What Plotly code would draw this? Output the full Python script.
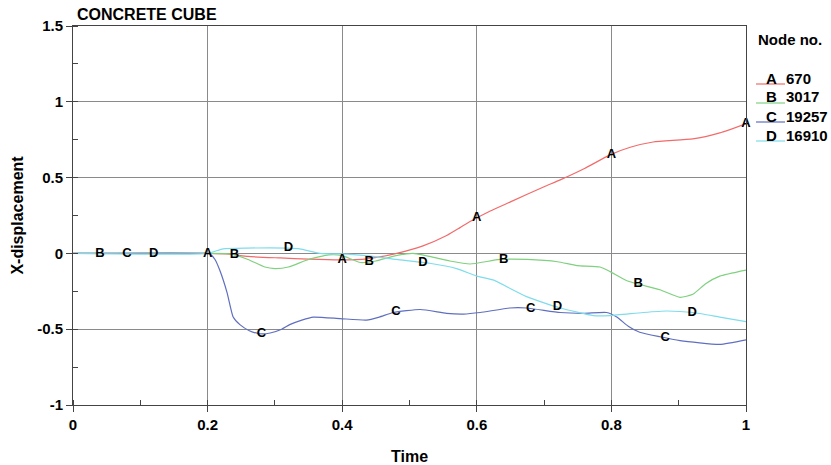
import numpy as np
import plotly.graph_objects as go

# ---------------- data ----------------
time_a = [0, 0.2, 0.233, 0.26, 0.308, 0.35, 0.397, 0.437, 0.46, 0.481, 0.52, 0.556, 0.575, 0.59,
          0.62, 0.65, 0.7, 0.724, 0.76, 0.798, 0.828, 0.862, 0.921, 0.961, 1.0]
disp_a = [0, 0, -0.005, -0.02, -0.03, -0.038, -0.043, -0.036, -0.02, 0.0, 0.05, 0.12, 0.17, 0.21,
          0.28, 0.34, 0.44, 0.485, 0.56, 0.65, 0.70, 0.735, 0.755, 0.795, 0.855]

time_b = [0, 0.2, 0.236, 0.26, 0.285, 0.3, 0.32, 0.35, 0.38, 0.4, 0.427, 0.45, 0.48, 0.505, 0.53,
          0.56, 0.59, 0.634, 0.675, 0.72, 0.749, 0.783, 0.798, 0.823, 0.872, 0.902, 0.921, 0.94,
          0.961, 1.0]
disp_b = [0, 0, -0.005, -0.04, -0.09, -0.1, -0.09, -0.04, -0.01, -0.015, -0.06, -0.05, -0.015, 0.0,
          -0.02, -0.05, -0.07, -0.04, -0.04, -0.055, -0.08, -0.09, -0.12, -0.18, -0.24, -0.29, -0.27,
          -0.2, -0.15, -0.11]

time_c = [0, 0.2, 0.204, 0.211, 0.218, 0.229, 0.238, 0.248, 0.262, 0.278, 0.293, 0.31, 0.322, 0.34,
          0.357, 0.397, 0.436, 0.455, 0.476, 0.516, 0.555, 0.58, 0.605, 0.649, 0.674, 0.724, 0.76,
          0.793, 0.808, 0.825, 0.842, 0.872, 0.902, 0.961, 1.0]
disp_c = [0, 0, -0.005, -0.04, -0.11, -0.26, -0.42, -0.47, -0.51, -0.53, -0.525, -0.5, -0.47, -0.44,
          -0.42, -0.43, -0.44, -0.42, -0.39, -0.37, -0.395, -0.40, -0.39, -0.36, -0.36, -0.39, -0.395,
          -0.39, -0.42, -0.48, -0.52, -0.55, -0.575, -0.6, -0.57]

time_d = [0, 0.2, 0.223, 0.258, 0.318, 0.337, 0.367, 0.407, 0.436, 0.481, 0.53, 0.57, 0.6, 0.624,
          0.674, 0.724, 0.773, 0.798, 0.847, 0.882, 0.921, 0.961, 1.0]
disp_d = [0, 0, 0.03, 0.035, 0.035, 0.03, 0.0, -0.005, -0.015, -0.04, -0.065, -0.1, -0.15, -0.175,
          -0.285, -0.36, -0.41, -0.41, -0.39, -0.38, -0.39, -0.42, -0.45]

letters = ["A", "B", "C", "D"]
nodes = ["670", "3017", "19257", "16910"]
label_times = {
    "A": [0.2, 0.4, 0.6, 0.8, 1.0],
    "B": [0.04, 0.24, 0.44, 0.64, 0.84],
    "C": [0.08, 0.28, 0.48, 0.68, 0.88],
    "D": [0.12, 0.32, 0.52, 0.72, 0.92],
}
x_ticks = [0, 0.2, 0.4, 0.6, 0.8, 1.0]
x_ticktext = ["0", "0.2", "0.4", "0.6", "0.8", "1"]
y_ticks = [1.5, 1, 0.5, 0, -0.5, -1]
y_ticktext = ["1.5", "1", "0.5", "0", "-0.5", "-1"]

colors = ["#f26b6b", "#7fd07f", "#5f6fc0", "#7fdcec"]
series = [(time_a, disp_a), (time_b, disp_b), (time_c, disp_c), (time_d, disp_d)]

FONT = "Liberation Sans, Arial, sans-serif"

W, H = 831, 465
L, R, T, B = 73, 746, 26, 405

fig = go.Figure()
for (t, v), col, name in zip(series, colors, letters):
    fig.add_trace(go.Scatter(x=t, y=v, mode="lines",
                             line=dict(color=col, width=1.2, shape="spline", smoothing=0.5),
                             name=name, showlegend=False, hoverinfo="skip"))

for (t, v), name in zip(series, letters):
    lt = label_times[name]
    ly = np.interp(lt, t, v)
    fig.add_trace(go.Scatter(x=lt, y=ly, mode="text", text=[name] * len(lt),
                             textposition="middle center",
                             textfont=dict(family=FONT, size=13, color="black", weight="bold"),
                             showlegend=False, hoverinfo="skip", cliponaxis=False))

# legend as annotations / shapes (paper coords, from window pixels)
def px(xp):
    return (xp - L) / (R - L)
def py(yp):
    return (B - yp) / (B - T)

fig.add_annotation(x=px(756), y=py(40), xref="paper", yref="paper", text="<b>Node no.</b>",
                   showarrow=False, xanchor="left", yanchor="middle",
                   font=dict(family=FONT, size=15, color="black"))
for i, (lt, nd, col) in enumerate(zip(letters, nodes, colors)):
    yc = 78 + i * 19
    fig.add_annotation(x=px(771), y=py(yc), xref="paper", yref="paper", text=f"<b>{lt}</b>",
                       showarrow=False, xanchor="center", yanchor="middle",
                       font=dict(family=FONT, size=15, color="black"))
    fig.add_annotation(x=px(784), y=py(yc), xref="paper", yref="paper", text=f"<b>{nd}</b>",
                       showarrow=False, xanchor="left", yanchor="middle",
                       font=dict(family=FONT, size=15, color="black"))
    fig.add_shape(type="line", xref="paper", yref="paper", x0=px(756), x1=px(785),
                  y0=py(yc + 6), y1=py(yc + 6), line=dict(color=col, width=1.2))

fig.add_annotation(x=px(75), y=py(15), xref="paper", yref="paper", text="<b>CONCRETE CUBE</b>",
                   showarrow=False, xanchor="left", yanchor="middle",
                   font=dict(family=FONT, size=16, color="black"))

fig.update_layout(
    width=W, height=H,
    margin=dict(l=L, r=W - R, t=T, b=H - B),
    paper_bgcolor="white", plot_bgcolor="white",
    font=dict(family=FONT, color="black"),
    showlegend=False,
)
fig.update_xaxes(
    range=[0, 1], tickvals=x_ticks, ticktext=x_ticktext, automargin=False,
    showgrid=True, gridcolor="#8a8a8a", gridwidth=1, zeroline=False,
    showline=True, linecolor="#444", linewidth=1, mirror=True,
    ticks="outside", ticklen=6, tickcolor="#444",
    minor=dict(ticks="inside", ticklen=5, dtick=0.1, tick0=0, tickcolor="#444", showgrid=False),
    tickfont=dict(family=FONT, size=15, color="black", weight="bold"),
    title=dict(text="<b>Time</b>", font=dict(family=FONT, size=16, color="black"), standoff=26),
)
fig.update_yaxes(
    range=[-1, 1.5], tickvals=y_ticks, ticktext=y_ticktext, automargin=False,
    showgrid=True, gridcolor="#8a8a8a", gridwidth=1, zeroline=False,
    showline=True, linecolor="#444", linewidth=1, mirror=True,
    ticks="outside", ticklen=6, tickcolor="#444",
    minor=dict(ticks="inside", ticklen=5, dtick=0.25, tick0=0, tickcolor="#444", showgrid=False),
    tickfont=dict(family=FONT, size=15, color="black", weight="bold"),
    title=dict(text="<b>X-displacement</b>", font=dict(family=FONT, size=16, color="black"),
               standoff=9),
)

# remove the page's default 8px body margin so the figure fills the window exactly
fig.write_html("out.html", config={"displayModeBar": False},
               post_script="document.body.style.margin='0';")
